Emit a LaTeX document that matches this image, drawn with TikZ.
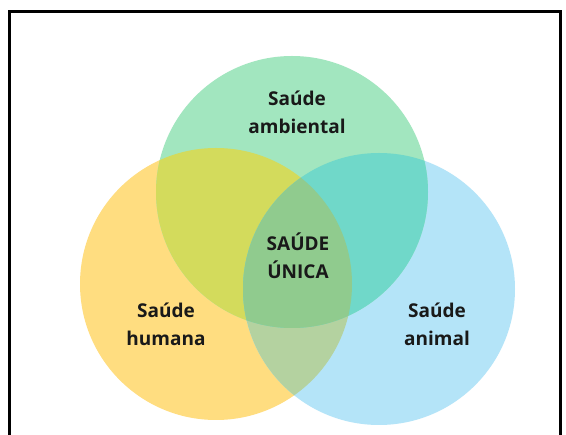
\documentclass[tikz,border=0pt]{standalone}
\usepackage{fontspec}
\setmainfont{Open Sans}
\definecolor{humanac}{HTML}{FFDD80}
\definecolor{ambientalc}{HTML}{A2E6BF}
\definecolor{animalc}{HTML}{B4E4F8}
\definecolor{humamb}{HTML}{D3DB5C}
\definecolor{ambani}{HTML}{70D8C9}
\definecolor{humani}{HTML}{B4D2A0}
\definecolor{unicac}{HTML}{90CB8E}
\tikzset{
  label text/.style={font=\fontsize{19}{28}\selectfont\bfseries, text=black!90, align=center, inner sep=0pt},
}
\begin{document}
\begin{tikzpicture}[x=1pt,y=-1pt]
  \useasboundingbox (0,0) rectangle (566,435);
  \fill[white] (0,0) rectangle (566,435);
  % centres of the three circles
  \coordinate (amb) at (292,192);
  \coordinate (hum) at (216,284);
  \coordinate (ani) at (379,289);
  \def\rad{136}
  \fill[humanac] (hum) circle (\rad);
  \fill[animalc] (ani) circle (\rad);
  \fill[ambientalc] (amb) circle (\rad);
  % overlaps
  \begin{scope}
    \clip (hum) circle (\rad);
    \fill[humamb] (amb) circle (\rad);
    \fill[humani] (ani) circle (\rad);
  \end{scope}
  \begin{scope}
    \clip (amb) circle (\rad);
    \fill[ambani] (ani) circle (\rad);
  \end{scope}
  \begin{scope}
    \clip (hum) circle (\rad);
    \clip (amb) circle (\rad);
    \fill[unicac] (ani) circle (\rad);
  \end{scope}
  % frame
  \draw[line width=3pt] (9.5,440) -- (9.5,11.5) -- (560.5,11.5) -- (560.5,440);
  % labels (base = baseline of the second line)
  \node[label text, anchor=base] (ambiental) at (297,134) {Saúde\\ambiental};
  \node[label text, anchor=base] (unica) at (298,279) {SAÚDE\\ÚNICA};
  \node[label text, anchor=base] (humana) at (166,346) {Saúde\\humana};
  \node[label text, anchor=base] (animal) at (437,346) {Saúde\\animal};
\end{tikzpicture}
\end{document}
